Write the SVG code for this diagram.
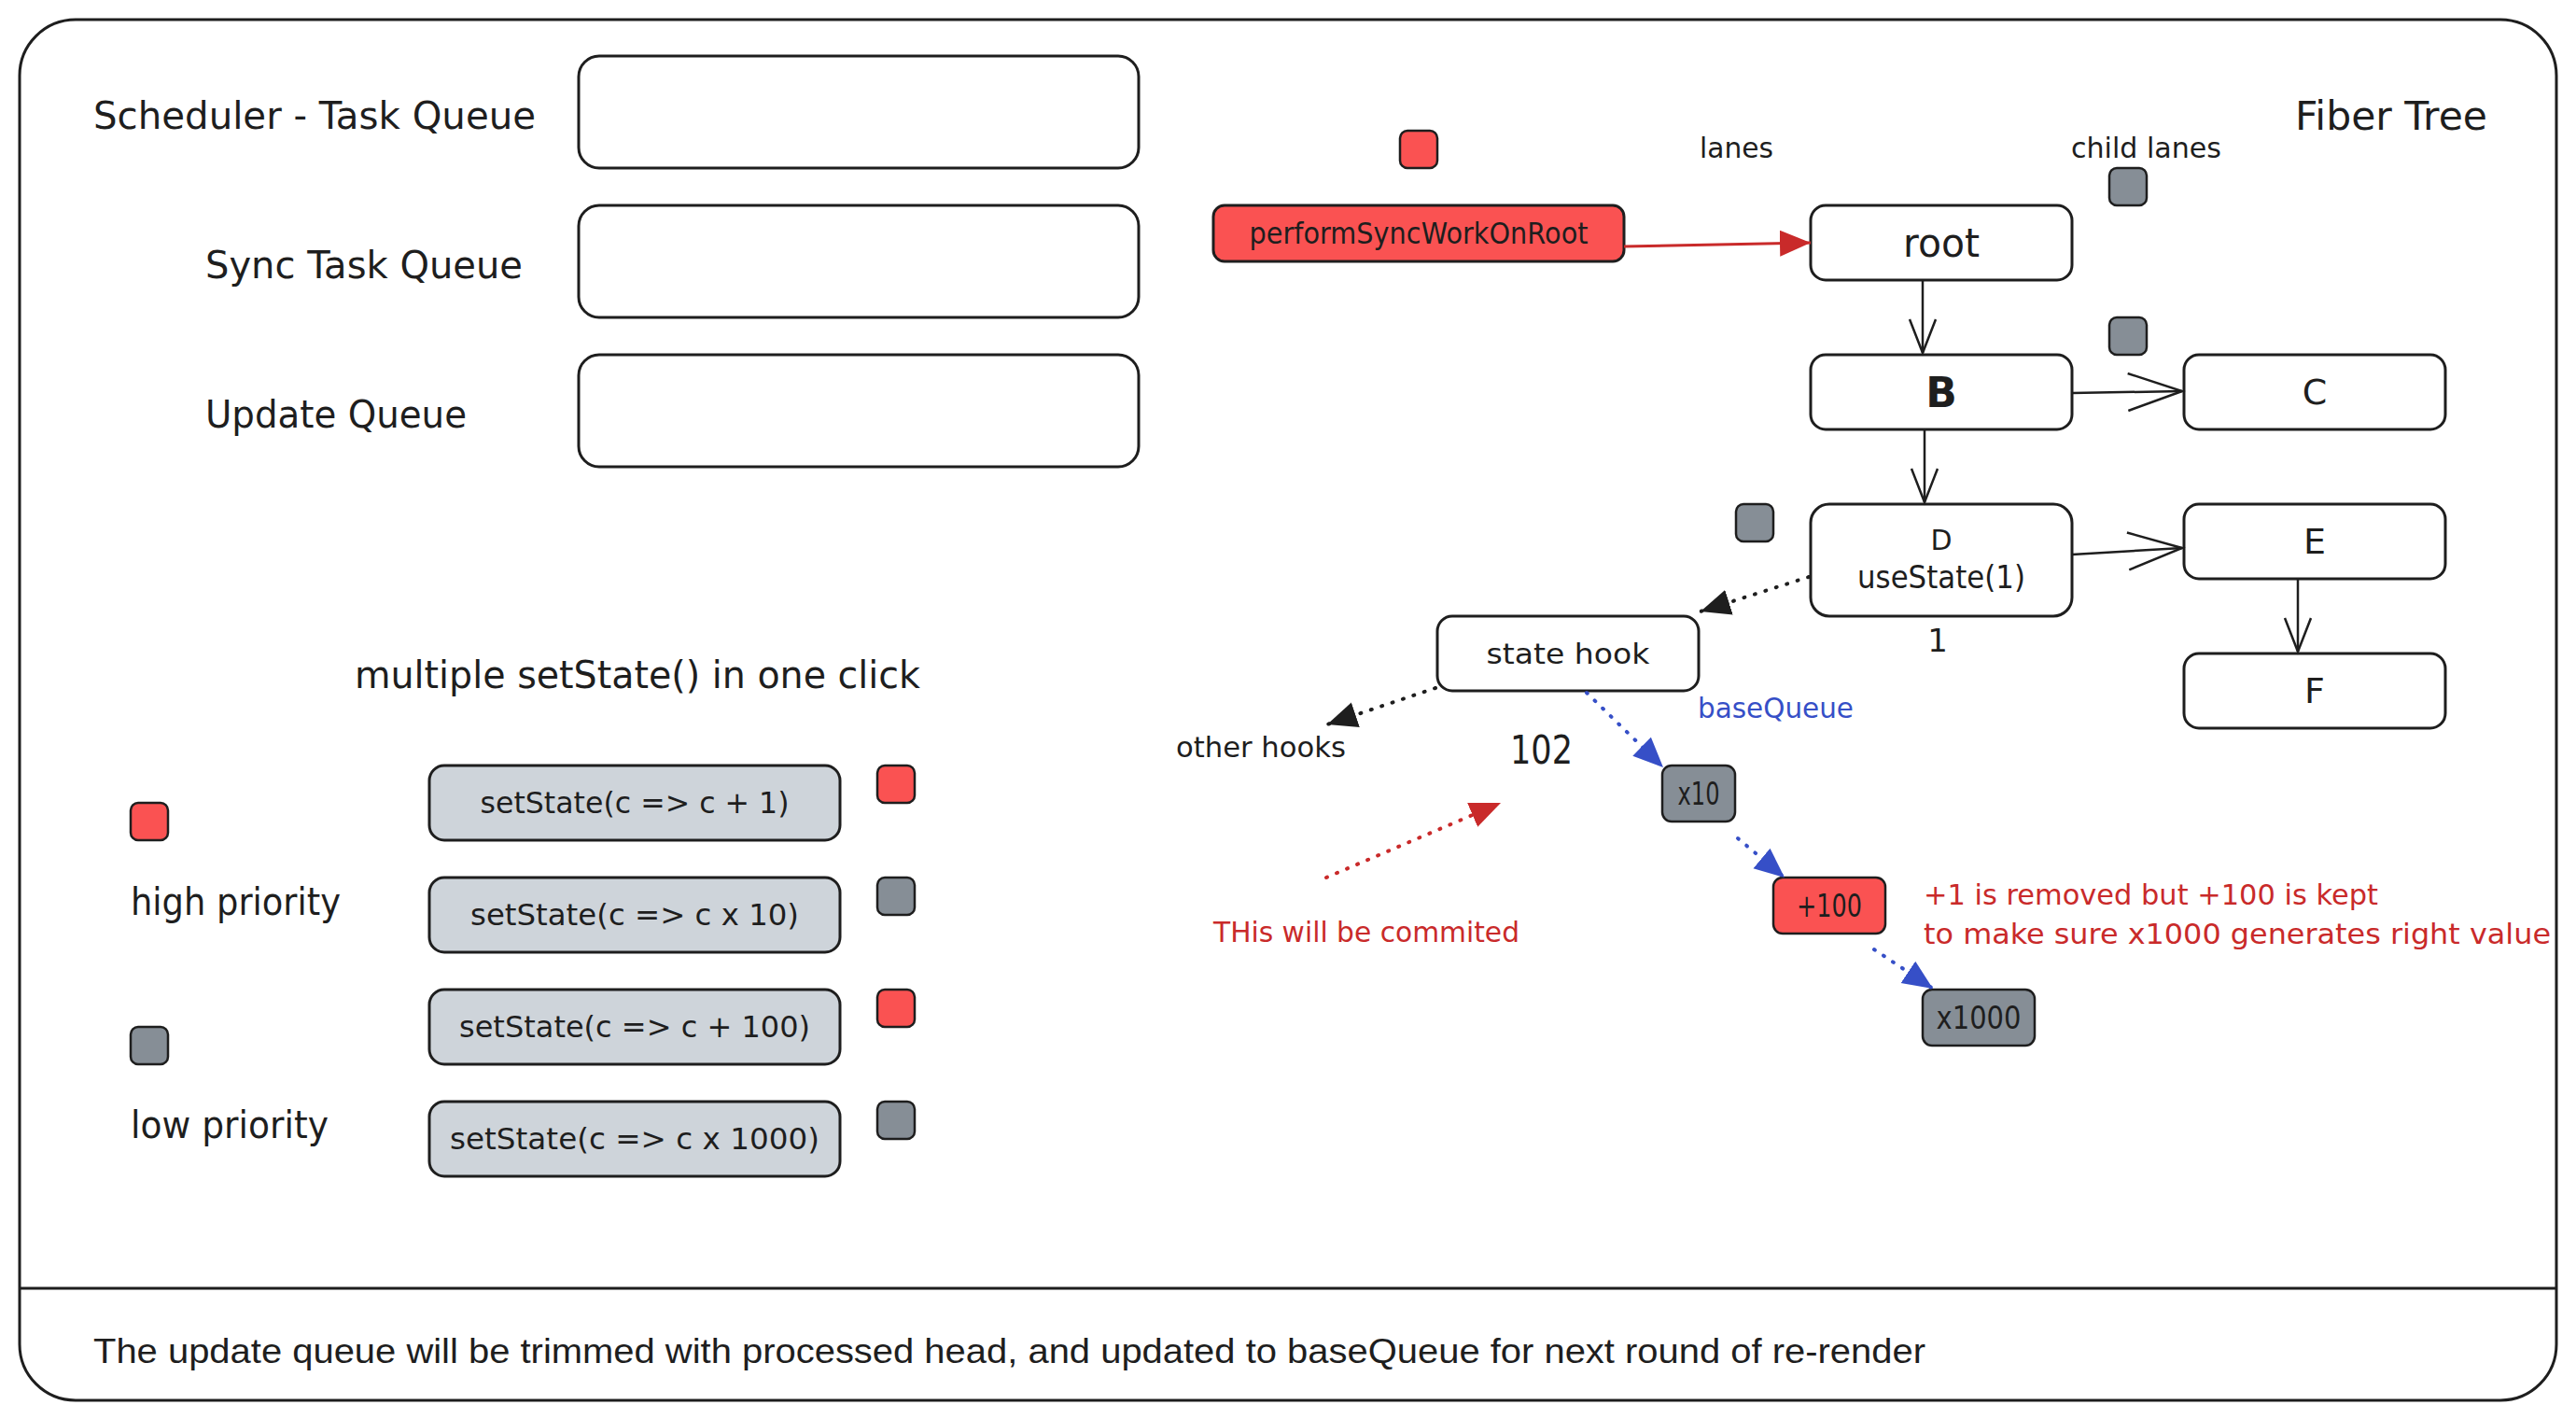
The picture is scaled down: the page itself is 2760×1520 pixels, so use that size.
<svg xmlns="http://www.w3.org/2000/svg" width="2760" height="1520" viewBox="0 0 2760 1520">
<defs>
<style>
.hand{font-family:"DejaVu Sans","Liberation Sans",sans-serif;fill:#1e1e1e;dominant-baseline:central;}
.help{font-family:"Liberation Sans",Arial,sans-serif;fill:#1e1e1e;dominant-baseline:central;}
.box{fill:#ffffff;stroke:#1e1e1e;stroke-width:3;}
.call{fill:#ced4da;stroke:#1e1e1e;stroke-width:3;}
.red{fill:#fa5252;stroke:#1e1e1e;stroke-width:2.5;}
.gray{fill:#868e96;stroke:#1e1e1e;stroke-width:2.5;}
.edge{fill:none;stroke:#1e1e1e;stroke-width:2.5;}
.dot{fill:none;stroke-width:4;stroke-linecap:round;stroke-dasharray:1 11;}
.redtxt{fill:#c92a2a;}
.bluetxt{fill:#364fc7;}
</style>
<marker id="vs" markerUnits="userSpaceOnUse" markerWidth="42" markerHeight="32" refX="38" refY="15" orient="auto" viewBox="0 0 42 32">
<path d="M2,1 L38,15 L2,29" fill="none" stroke="#1e1e1e" stroke-width="2.5"/>
</marker>
<marker id="vl" markerUnits="userSpaceOnUse" markerWidth="64" markerHeight="44" refX="60" refY="21" orient="auto" viewBox="0 0 64 44">
<path d="M2,1 L60,21 L2,41" fill="none" stroke="#1e1e1e" stroke-width="2.5"/>
</marker>
<marker id="tb" markerUnits="userSpaceOnUse" markerWidth="34" markerHeight="30" refX="32" refY="14" orient="auto" viewBox="0 0 34 30">
<path d="M0,0 L32,14 L0,28 Z" fill="#1e1e1e"/>
</marker>
<marker id="tr" markerUnits="userSpaceOnUse" markerWidth="36" markerHeight="30" refX="33" refY="14" orient="auto" viewBox="0 0 36 30">
<path d="M0,0 L33,14 L0,28 Z" fill="#c92a2a"/>
</marker>
<marker id="tbl" markerUnits="userSpaceOnUse" markerWidth="34" markerHeight="30" refX="32" refY="14" orient="auto" viewBox="0 0 34 30">
<path d="M0,0 L32,14 L0,28 Z" fill="#364fc7"/>
</marker>
</defs>

<g id="frame">
<rect x="21" y="21" width="2718" height="1479" rx="60" ry="60" fill="#ffffff" stroke="#1e1e1e" stroke-width="3"/>
<line x1="21" y1="1380" x2="2739" y2="1380" stroke="#1e1e1e" stroke-width="3"/>
</g>

<g id="queues">
<text class="hand" x="100" y="124" font-size="40" textLength="474" lengthAdjust="spacingAndGlyphs">Scheduler - Task Queue</text>
<rect class="box" x="620" y="60" width="600" height="120" rx="22"/>
<text class="hand" x="220" y="284" font-size="40" textLength="340" lengthAdjust="spacingAndGlyphs">Sync Task Queue</text>
<rect class="box" x="620" y="220" width="600" height="120" rx="22"/>
<text class="hand" x="220" y="444" font-size="40" textLength="280" lengthAdjust="spacingAndGlyphs">Update Queue</text>
<rect class="box" x="620" y="380" width="600" height="120" rx="22"/>
</g>

<g id="clicks">
<text class="hand" x="380" y="723" font-size="40" textLength="606" lengthAdjust="spacingAndGlyphs">multiple setState() in one click</text>
<rect class="red" x="140" y="860" width="40" height="40" rx="8"/>
<text class="hand" x="140" y="966" font-size="40" textLength="225" lengthAdjust="spacingAndGlyphs">high priority</text>
<rect class="gray" x="140" y="1100" width="40" height="40" rx="8"/>
<text class="hand" x="140" y="1205" font-size="40" textLength="212" lengthAdjust="spacingAndGlyphs">low priority</text>
</g>

<g id="set1">
<rect class="call" x="460" y="820" width="440" height="80" rx="16"/>
<text class="hand" x="680" y="860" font-size="32" text-anchor="middle" textLength="331" lengthAdjust="spacingAndGlyphs">setState(c =&gt; c + 1)</text>
<rect class="red" x="940" y="820" width="40" height="40" rx="8"/>
</g>
<g id="set2">
<rect class="call" x="460" y="940" width="440" height="80" rx="16"/>
<text class="hand" x="680" y="980" font-size="32" text-anchor="middle" textLength="352" lengthAdjust="spacingAndGlyphs">setState(c =&gt; c x 10)</text>
<rect class="gray" x="940" y="940" width="40" height="40" rx="8"/>
</g>
<g id="set3">
<rect class="call" x="460" y="1060" width="440" height="80" rx="16"/>
<text class="hand" x="680" y="1100" font-size="32" text-anchor="middle" textLength="376" lengthAdjust="spacingAndGlyphs">setState(c =&gt; c + 100)</text>
<rect class="red" x="940" y="1060" width="40" height="40" rx="8"/>
</g>
<g id="set4">
<rect class="call" x="460" y="1180" width="440" height="80" rx="16"/>
<text class="hand" x="680" y="1220" font-size="32" text-anchor="middle" textLength="396" lengthAdjust="spacingAndGlyphs">setState(c =&gt; c x 1000)</text>
<rect class="gray" x="940" y="1180" width="40" height="40" rx="8"/>
</g>

<g id="fiber-labels">
<text class="hand" x="2459" y="124" font-size="42" textLength="206" lengthAdjust="spacingAndGlyphs">Fiber Tree</text>
<text class="hand" x="1821" y="158" font-size="31" textLength="79" lengthAdjust="spacingAndGlyphs">lanes</text>
<text class="hand" x="2219" y="158" font-size="31" textLength="161" lengthAdjust="spacingAndGlyphs">child lanes</text>
<rect class="red" x="1500" y="140" width="40" height="40" rx="8"/>
<rect class="gray" x="2260" y="180" width="40" height="40" rx="8"/>
<rect class="gray" x="2260" y="340" width="40" height="40" rx="8"/>
<rect class="gray" x="1860" y="540" width="40" height="40" rx="8"/>
</g>

<g id="performSyncWorkOnRoot">
<rect x="1300" y="220" width="440" height="60" rx="12" fill="#fa5252" stroke="#1e1e1e" stroke-width="3"/>
<text class="hand" x="1520" y="250" font-size="32" text-anchor="middle" textLength="363" lengthAdjust="spacingAndGlyphs">performSyncWorkOnRoot</text>
</g>
<g id="root">
<rect class="box" x="1940" y="220" width="280" height="80" rx="16"/>
<text class="hand" x="2080" y="260" font-size="42" text-anchor="middle" textLength="82" lengthAdjust="spacingAndGlyphs">root</text>
</g>
<g id="B">
<rect class="box" x="1940" y="380" width="280" height="80" rx="16"/>
<text class="hand" x="2080" y="420" font-size="44" font-weight="bold" text-anchor="middle">B</text>
</g>
<g id="C">
<rect class="box" x="2340" y="380" width="280" height="80" rx="16"/>
<text class="hand" x="2480" y="420" font-size="38" text-anchor="middle">C</text>
</g>
<g id="D">
<rect class="box" x="1940" y="540" width="280" height="120" rx="20"/>
<text class="hand" x="2080" y="578" font-size="30" text-anchor="middle">D</text>
<text class="hand" x="2080" y="618" font-size="33" text-anchor="middle" textLength="180" lengthAdjust="spacingAndGlyphs">useState(1)</text>
<text class="hand" x="2076" y="686" font-size="34" text-anchor="middle">1</text>
</g>
<g id="E">
<rect class="box" x="2340" y="540" width="280" height="80" rx="16"/>
<text class="hand" x="2480" y="580" font-size="38" text-anchor="middle">E</text>
</g>
<g id="F">
<rect class="box" x="2340" y="700" width="280" height="80" rx="16"/>
<text class="hand" x="2480" y="740" font-size="38" text-anchor="middle">F</text>
</g>
<g id="state-hook">
<rect class="box" x="1540" y="660" width="280" height="80" rx="16"/>
<text class="hand" x="1680" y="700" font-size="31" text-anchor="middle" textLength="175" lengthAdjust="spacingAndGlyphs">state hook</text>
</g>
<g id="other-hooks">
<text class="hand" x="1260" y="800" font-size="31" textLength="182" lengthAdjust="spacingAndGlyphs">other hooks</text>
</g>
<g id="value-102">
<text class="hand" x="1618" y="803" font-size="42" textLength="67" lengthAdjust="spacingAndGlyphs">102</text>
</g>
<g id="x10">
<rect class="gray" x="1781" y="820" width="78" height="60" rx="10"/>
<text class="hand" x="1820" y="850" font-size="33" text-anchor="middle" textLength="45" lengthAdjust="spacingAndGlyphs">x10</text>
</g>
<g id="p100">
<rect class="red" x="1900" y="940" width="120" height="60" rx="10"/>
<text class="hand" x="1960" y="970" font-size="33" text-anchor="middle" textLength="70" lengthAdjust="spacingAndGlyphs">+100</text>
</g>
<g id="x1000">
<rect class="gray" x="2060" y="1060" width="120" height="60" rx="10"/>
<text class="hand" x="2120" y="1090" font-size="33" text-anchor="middle" textLength="91" lengthAdjust="spacingAndGlyphs">x1000</text>
</g>

<g id="notes">
<text class="hand bluetxt" x="1819" y="758" font-size="31" textLength="167" lengthAdjust="spacingAndGlyphs">baseQueue</text>
<text class="hand redtxt" x="1300" y="998" font-size="31" textLength="328" lengthAdjust="spacingAndGlyphs">THis will be commited</text>
<text class="hand redtxt" x="2061" y="958" font-size="31" textLength="487" lengthAdjust="spacingAndGlyphs">+1 is removed but +100 is kept</text>
<text class="hand redtxt" x="2061" y="1000" font-size="31" textLength="672" lengthAdjust="spacingAndGlyphs">to make sure x1000 generates right value</text>
<text class="help" x="100" y="1447" font-size="37" textLength="1963" lengthAdjust="spacingAndGlyphs">The update queue will be trimmed with processed head, and updated to baseQueue for next round of re-render</text>
</g>

<g id="connectors">
<line x1="1740" y1="264" x2="1940" y2="260" stroke="#c92a2a" stroke-width="3" marker-end="url(#tr)"/>
<line class="edge" x1="2060" y1="300" x2="2060" y2="378" marker-end="url(#vs)"/>
<line class="edge" x1="2062" y1="460" x2="2062" y2="538" marker-end="url(#vs)"/>
<line class="edge" x1="2220" y1="421" x2="2338" y2="419" marker-end="url(#vl)"/>
<line class="edge" x1="2220" y1="594" x2="2338" y2="587" marker-end="url(#vl)"/>
<line class="edge" x1="2462" y1="620" x2="2462" y2="698" marker-end="url(#vs)"/>
<line class="dot" stroke="#1e1e1e" x1="1938" y1="618" x2="1822" y2="655" marker-end="url(#tb)"/>
<line class="dot" stroke="#1e1e1e" x1="1538" y1="737" x2="1422" y2="776" marker-end="url(#tb)"/>
<line class="dot" stroke="#364fc7" x1="1700" y1="742" x2="1782" y2="822" marker-end="url(#tbl)"/>
<line class="dot" stroke="#364fc7" x1="1862" y1="898" x2="1912" y2="940" marker-end="url(#tbl)"/>
<line class="dot" stroke="#364fc7" x1="2008" y1="1017" x2="2071" y2="1059" marker-end="url(#tbl)"/>
<line class="dot" stroke="#c92a2a" x1="1421" y1="940" x2="1608" y2="860" marker-end="url(#tr)"/>
</g>
</svg>
